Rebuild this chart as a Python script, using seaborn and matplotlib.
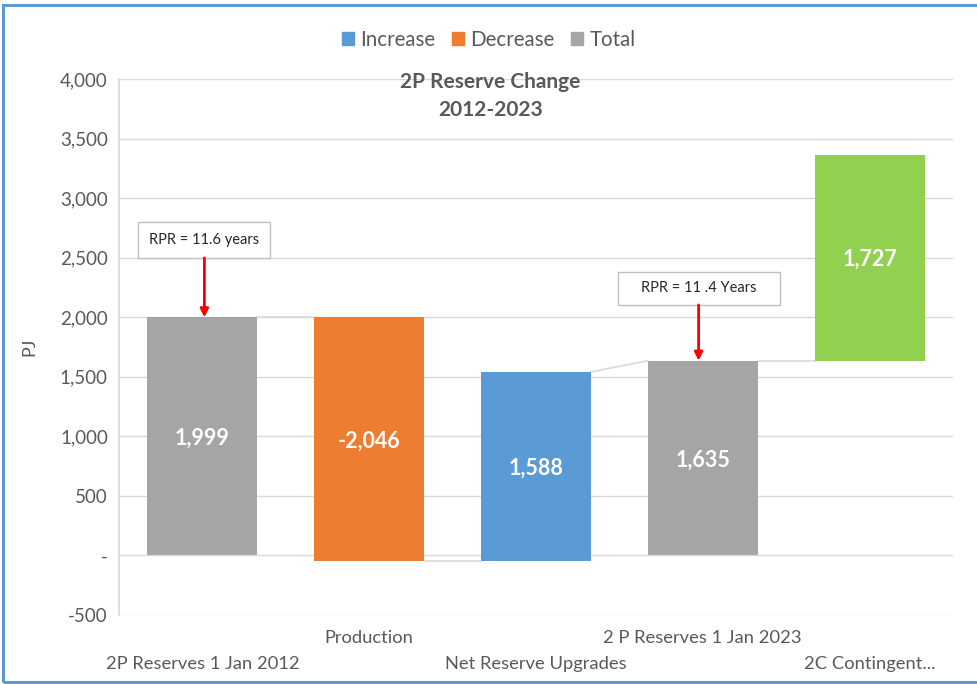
import matplotlib
matplotlib.use("Agg")
import matplotlib.pyplot as plt
from matplotlib.patches import Patch, Rectangle
from matplotlib.ticker import FuncFormatter
import seaborn as sns
import pandas as pd

# Waterfall data (PJ)
categories = ["2P Reserves 1 Jan 2012", "Production", "Net Reserve Upgrades",
              "2 P Reserves 1 Jan 2023", "2C Contingent..."]
values = [1999, -2046, 1588, 1635, 1727]
bottoms = [0, -47, -47, 0, 1635]
kinds = ["Total", "Decrease", "Increase", "Total", "Contingent"]

palette = {"Increase": "#5B9BD5", "Decrease": "#ED7D31",
           "Total": "#A5A5A5", "Contingent": "#92D050"}

tops = [b + abs(v) for b, v in zip(bottoms, values)]
df = pd.DataFrame({"category": categories, "top": tops, "kind": kinds})

sns.set_theme(style="white")
plt.rcParams["font.family"] = ["Lato", "DejaVu Sans"]

fig = plt.figure(figsize=(9.77, 6.84), dpi=100)
ax = fig.add_axes([0.1218, 0.1009, 0.8536, 0.7836])

sns.barplot(data=df, x="category", y="top", hue="kind", palette=palette,
            dodge=False, width=0.66, saturation=1, legend=False, ax=ax, zorder=3)

# Turn the bars into floating waterfall segments
bars = [p for p in ax.patches if p.get_height() != 0]
bars.sort(key=lambda p: p.get_x())
for p, b, v in zip(bars, bottoms, values):
    p.set_y(b)
    p.set_height(abs(v))
    p.set_linewidth(0)
    cx = p.get_x() + p.get_width() / 2
    ax.text(cx, b + abs(v) / 2 - 15, f"{v:,}", ha="center", va="center",
            color="white", fontsize=15.5, fontweight="bold", zorder=5)

# Connector lines between consecutive bars
conn = "#D9D9D9"
for i in range(len(bars) - 1):
    p, q = bars[i], bars[i + 1]
    x0 = p.get_x() + p.get_width()
    x1 = q.get_x()
    if i == 0:
        y0, y1 = tops[0], tops[0]
    elif i == 1:
        y0, y1 = bottoms[1], bottoms[2]
    elif i == 2:
        y0, y1 = tops[2], tops[3]
    else:
        y0, y1 = tops[3], bottoms[4]
    ax.plot([x0, x1], [y0, y1], color=conn, lw=1.2, zorder=2)

ax.set_xlim(-0.5, 4.5)
ax.set_ylim(-500, 4000)
ax.set_yticks(range(-500, 4001, 500))
ax.yaxis.set_major_formatter(FuncFormatter(lambda v, _: "-" if v == 0 else f"{int(v):,}"))
ax.grid(axis="y", color="#D9D9D9", lw=1, zorder=0)
for s in ["top", "right", "bottom"]:
    ax.spines[s].set_visible(False)
ax.spines["left"].set_color("#D9D9D9")
ax.tick_params(axis="y", colors="#595959", labelsize=13.5, length=0, pad=8)
ax.tick_params(axis="x", length=0)
ax.set_xticks(range(len(categories)))
ax.set_xticklabels([])
for i, c in enumerate(categories):
    ax.annotate(c, xy=(i, 0), xycoords=("data", "axes fraction"),
                xytext=(0, -16.6 if i % 2 else -35.3), textcoords="offset points",
                ha="center", va="center", fontsize=13.2, color="#595959")

ax.set_xlabel("")
ax.set_ylabel("PJ", fontsize=13, color="#595959", labelpad=16)

# Chart title inside the plot
fig.text(0.502, 0.880, "2P Reserve Change", ha="center", va="center",
         fontsize=15, fontweight="bold", color="#595959")
fig.text(0.502, 0.839, "2012-2023", ha="center", va="center",
         fontsize=15, fontweight="bold", color="#595959")

# RPR callouts
callouts = [("RPR = 11.6 years", -0.384, 0.408, 2498, 2800, 0.012, 1999),
            ("RPR = 11 .4 Years", 2.49, 3.46, 2103, 2380, 2.975, 1635)]
for txt, xl, xr, yb, yt, xa, ya in callouts:
    ax.add_patch(Rectangle((xl, yb), xr - xl, yt - yb, facecolor="white",
                           edgecolor="#BFBFBF", lw=1, zorder=6))
    ax.text((xl + xr) / 2, (yb + yt) / 2, txt, ha="center", va="center",
            fontsize=10.5, color="#262626", zorder=7)
    ax.annotate("", xy=(xa, ya), xytext=(xa, yb),
                arrowprops=dict(arrowstyle="-|>", color="#FF0000", lw=2,
                                mutation_scale=12, shrinkA=0, shrinkB=0),
                zorder=7)

handles = [Patch(color=palette[k]) for k in ["Increase", "Decrease", "Total"]]
fig.legend(handles, ["Increase", "Decrease", "Total"], loc="center",
           bbox_to_anchor=(0.5, 0.942), ncol=3, frameon=False, fontsize=14.8,
           handlelength=0.6, handleheight=0.6, handletextpad=0.3,
           columnspacing=0.8, labelcolor="#595959")

fig.patches.append(Rectangle((0.003, 0.003), 1.2, 0.99, transform=fig.transFigure,
                             fill=False, edgecolor="#5B9BD5", lw=2.2))

fig.savefig("out.png", dpi=100)
